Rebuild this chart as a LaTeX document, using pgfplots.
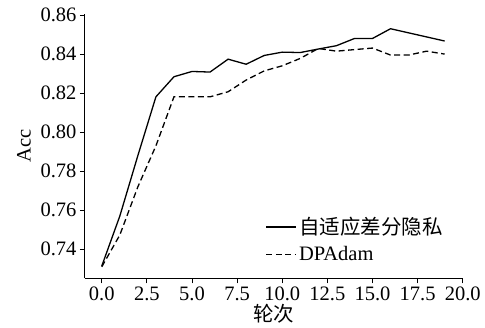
\documentclass[border=0pt]{standalone}
\usepackage{fontspec}
\setmainfont{Liberation Serif}
\newfontfamily\cjk{Noto Sans CJK SC}
\usepackage{pgfplots}
\pgfplotsset{compat=1.18}
\begin{document}
\begin{tikzpicture}
\begin{axis}[
  scale only axis, width=377.7pt, height=264pt,
  at={(0pt,0pt)}, anchor=south west,
  xmin=-0.93, xmax=20, ymin=0.7251, ymax=0.8604,
  axis x line*=bottom, axis y line*=left,
  axis line style={-, line width=1pt},
  tick align=outside, major tick length=5pt,
  tick style={line width=1pt, black},
  xtick={0,2.5,...,20}, ytick={0.74,0.76,0.78,0.80,0.82,0.84,0.86},
  xticklabel style={/pgf/number format/.cd, fixed, fixed zerofill, precision=1},
  yticklabel style={/pgf/number format/.cd, fixed, fixed zerofill, precision=2},
  /pgf/number format/assume math mode=true,
  tick label style={font=\fontsize{20.5}{24}\selectfont},
  label style={font=\fontsize{20.5}{24}\selectfont},
  xlabel={\cjk 轮次}, ylabel={Acc},
  xlabel shift=-3pt, ylabel shift=3pt,
  legend style={draw=none, fill=none, at={(0.47,0.045)}, anchor=south west,
    font=\fontsize{20.5}{24}\selectfont, row sep=6pt},
  legend cell align=left,
  legend image code/.code={\draw[#1] (0pt,0pt) -- (30pt,0pt);},
]
\addplot[black, line width=1.3pt] coordinates {
(0,0.7314) (1,0.757) (2,0.788) (3,0.8181) (4,0.8284) (5,0.8311) (6,0.8308)
(7,0.8374) (8,0.8348) (9,0.8393) (10,0.8410) (11,0.8408) (12,0.8426)
(13,0.8443) (14,0.8480) (15,0.8480) (16,0.8530) (17,0.8509) (18,0.8488) (19,0.8467)};
\addlegendentry{\cjk 自适应差分隐私}
\addplot[black, line width=1.3pt, dash pattern=on 6pt off 3.5pt] coordinates {
(0,0.731) (1,0.7473) (2,0.772) (3,0.793) (4,0.8181) (5,0.8181) (6,0.8181)
(7,0.8207) (8,0.8267) (9,0.8314) (10,0.8340) (11,0.8378) (12,0.8429)
(13,0.8415) (14,0.8423) (15,0.8431) (16,0.8395) (17,0.8395) (18,0.8415) (19,0.8400)};
\addlegendentry{DPAdam}
\end{axis}
\pgfresetboundingbox
\path[use as bounding box] (-85pt,-49.7pt) rectangle (400pt,278.3pt);
\end{tikzpicture}
\end{document}
